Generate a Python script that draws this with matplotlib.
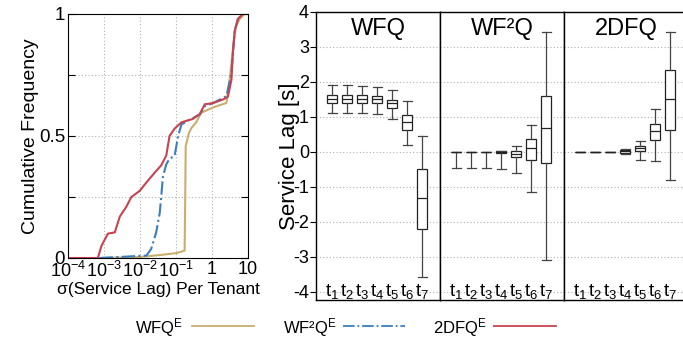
import numpy as np
import matplotlib.pyplot as plt
from matplotlib.lines import Line2D

plt.rcParams['font.family'] = ['Liberation Sans', 'DejaVu Sans']
plt.rcParams['mathtext.fontset'] = 'custom'
plt.rcParams['mathtext.rm'] = 'Liberation Sans'
plt.rcParams['mathtext.it'] = 'Liberation Sans'
plt.rcParams['mathtext.default'] = 'regular'
plt.rcParams['axes.unicode_minus'] = False

C_WFQ = '#c9ae6e'
C_WF2Q = '#3a7dc0'
C_2DFQ = '#c8434f'

# CDF of per-tenant service-lag std. dev. (log10 x, cumulative frequency)
wfq_logx = [-3.12, -2.01, -1.45, -0.99, -0.76, -0.73, -0.64, -0.57, -0.44, -0.30,
            -0.11, 0.12, 0.40, 0.49, 0.58, 0.66, 0.77, 0.91]
wfq_y = [0.0, 0.004, 0.012, 0.02, 0.03, 0.458, 0.513, 0.533, 0.556, 0.595,
         0.608, 0.622, 0.635, 0.73, 0.853, 0.948, 0.98, 1.0]

wf2q_logx = [-3.12, -1.82, -1.69, -1.55, -1.45, -1.41, -1.36, -1.27, -1.18, -1.04,
             -0.94, -0.85, -0.62, -0.34, -0.20, 0.03, 0.40, 0.54, 0.58, 0.63, 0.72, 0.86]
wf2q_y = [0.0, 0.01, 0.037, 0.105, 0.186, 0.254, 0.336, 0.384, 0.407, 0.418,
          0.50, 0.547, 0.567, 0.588, 0.622, 0.635, 0.663, 0.758, 0.84, 0.93, 0.98, 1.0]

dfq_logx = [-4.0, -3.17, -3.07, -2.89, -2.70, -2.56, -2.38, -2.24, -2.01, -1.82,
            -1.59, -1.41, -1.27, -1.18, -1.04, -0.85, -0.53, -0.34, -0.20, 0.03,
            0.31, 0.44, 0.54, 0.58, 0.63, 0.72, 0.86]
dfq_y = [0.0, 0.0, 0.05, 0.10, 0.105, 0.17, 0.21, 0.25, 0.275, 0.31,
         0.35, 0.38, 0.42, 0.50, 0.53, 0.556, 0.57, 0.59, 0.63, 0.635,
         0.65, 0.66, 0.73, 0.84, 0.93, 0.98, 1.0]

# service lag boxes per tenant: (whisker low, q1, median, q3, whisker high)
tenants = [f'$t_{i}$' for i in range(1, 8)]
schedulers = ['WFQ', 'WF²Q', '2DFQ']
wfq_boxes = [
    (1.12, 1.41, 1.52, 1.62, 1.90),
    (1.12, 1.41, 1.52, 1.62, 1.90),
    (1.12, 1.41, 1.52, 1.62, 1.89),
    (1.09, 1.39, 1.50, 1.60, 1.87),
    (0.95, 1.27, 1.41, 1.49, 1.76),
    (0.19, 0.64, 0.87, 1.07, 1.47),
    (-3.57, -2.19, -1.31, -0.50, 0.47),
]
wf2q_boxes = [
    (-0.45, 0.0, 0.0, 0.0, 0.0),
    (-0.45, 0.0, 0.0, 0.0, 0.0),
    (-0.45, 0.0, 0.0, 0.0, 0.0),
    (-0.48, -0.02, 0.0, 0.02, 0.02),
    (-0.60, -0.14, -0.06, 0.03, 0.18),
    (-1.13, -0.23, 0.11, 0.38, 0.78),
    (-3.09, -0.31, 0.69, 1.60, 3.42),
]
dfq_boxes = [
    (0.0, 0.0, 0.0, 0.0, 0.0),
    (0.0, 0.0, 0.0, 0.0, 0.0),
    (0.0, 0.0, 0.0, 0.0, 0.0),
    (-0.06, -0.04, 0.02, 0.05, 0.08),
    (-0.23, 0.03, 0.10, 0.17, 0.32),
    (-0.27, 0.35, 0.59, 0.81, 1.24),
    (-0.79, 0.64, 1.51, 2.35, 3.42),
]

W, H = 683, 342
fig = plt.figure(figsize=(W / 100, H / 100), dpi=100)


def fbox(x0, y0, x1, y1):
    # pixel box (top-left origin) -> figure fraction rect
    return [x0 / W, 1 - y1 / H, (x1 - x0) / W, (y1 - y0) / H]


grid_kw = dict(color='#b0b0b0', linestyle=(0, (1, 2)), linewidth=0.8)

# ---- left: CDF ----
ax = fig.add_axes(fbox(68, 14, 248, 258))
ax.plot(10 ** np.array(wfq_logx), wfq_y, color=C_WFQ, lw=1.5)
ax.plot(10 ** np.array(wf2q_logx), wf2q_y, color=C_WF2Q, lw=1.5, linestyle='-.')
ax.plot(10 ** np.array(dfq_logx), dfq_y, color=C_2DFQ, lw=1.5)
ax.set_xscale('log')
ax.set_xlim(1e-4, 10)
ax.set_ylim(0, 1)
decades = [1e-4, 1e-3, 1e-2, 1e-1, 1, 10]
ax.set_xticks(decades)
ax.set_xticklabels(['$10^{-4}$', '$10^{-3}$', '$10^{-2}$', '$10^{-1}$', '1', '10'])
ax.xaxis.set_minor_locator(plt.NullLocator())
ax.set_yticks([0, 0.25, 0.5, 0.75, 1])
ax.set_yticklabels(['0', '', '0.5', '', '1'])
ax.tick_params(direction='in', right=True, length=5, labelsize=13.5, pad=2)
ax.tick_params(axis='x', length=0, pad=2, labelsize=13)
for v in decades[1:-1]:
    ax.axvline(v, **grid_kw, zorder=0)
for v in [0.25, 0.5, 0.75]:
    ax.axhline(v, **grid_kw, zorder=0)
ax.set_ylabel('Cumulative Frequency', fontsize=14, labelpad=0)
ax.set_xlabel('σ(Service Lag) Per Tenant', fontsize=12.5, labelpad=1)

# ---- right: service lag boxes per scheduler ----
facet_w = 124
for k, (name, boxes) in enumerate(zip(schedulers, [wfq_boxes, wf2q_boxes, dfq_boxes])):
    x0 = 316 + k * facet_w
    bax = fig.add_axes(fbox(x0, 12, x0 + facet_w, 300))
    stats = [dict(whislo=b[0], q1=b[1], med=b[2], q3=b[3], whishi=b[4], fliers=[])
             for b in boxes]
    pos = np.arange(1, 8)
    bax.bxp(stats, positions=pos, widths=0.72, capwidths=0.6, patch_artist=True,
            boxprops=dict(facecolor='white', edgecolor='#222222', linewidth=0.9),
            medianprops=dict(color='#222222', linewidth=0.9),
            whiskerprops=dict(color='#444444', linewidth=0.9),
            capprops=dict(color='#444444', linewidth=0.9))
    bax.set_xlim(-0.07, 8.2)
    bax.set_ylim(-4.23, 4.0)
    bax.set_xticks([])
    bax.set_yticks(range(-4, 5))
    for v in range(-4, 4):
        bax.axhline(v, **grid_kw, zorder=0)
    for p, lab in zip(pos, tenants):
        bax.text(p, -4.11, lab, ha='center', va='baseline', fontsize=13.5)
    bax.text(4.1, 3.5, name, ha='center', va='center', fontsize=17)
    for s in bax.spines.values():
        s.set_linewidth(1.0)
    if k == 0:
        bax.tick_params(axis='y', direction='out', length=4, labelsize=13, pad=1)
        bax.set_ylabel('Service Lag [s]', fontsize=16, labelpad=-5)
    else:
        bax.tick_params(axis='y', left=False, labelleft=False)

# ---- legend ----
legend_items = [('WFQ$^{E}$', C_WFQ, '-', 135, 192),
                ('WF²Q$^{E}$', C_WF2Q, '-.', 283, 343),
                ('2DFQ$^{E}$', C_2DFQ, '-', 433, 494)]
for label, col, ls, tx, lx in legend_items:
    fig.text(tx / W, 1 - 328 / H, label, fontsize=12, va='center', ha='left')
    fig.add_artist(Line2D([lx / W, (lx + 62) / W], [1 - 326 / H] * 2,
                          color=col, linestyle=ls, lw=1.3))

fig.savefig('out.png', dpi=100)
